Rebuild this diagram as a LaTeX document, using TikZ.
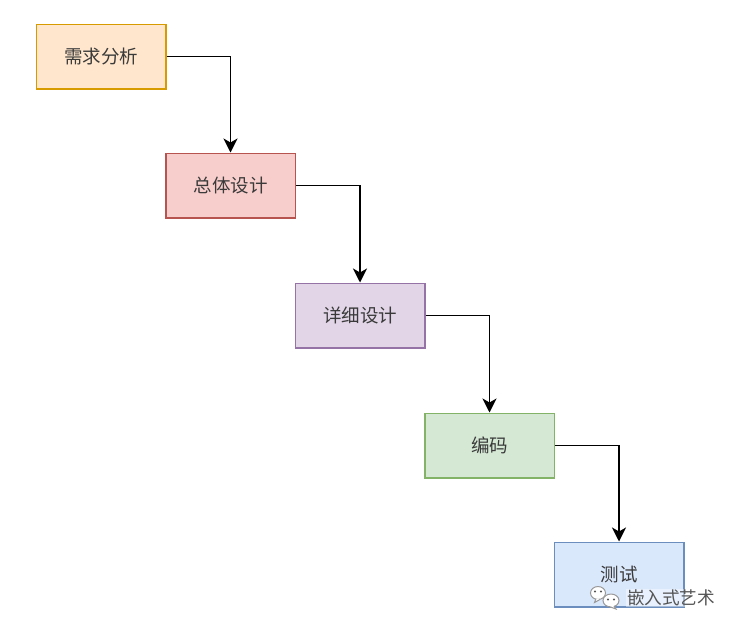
\documentclass[tikz,border=0pt]{standalone}
\usepackage{fontspec}
\setmainfont{Noto Sans CJK SC}
\usetikzlibrary{arrows.meta}
\definecolor{orangefill}{HTML}{FFE6CC}\definecolor{orangeline}{HTML}{D79B00}
\definecolor{redfill}{HTML}{F8CECC}\definecolor{redline}{HTML}{B85450}
\definecolor{purplefill}{HTML}{E1D5E7}\definecolor{purpleline}{HTML}{9673A6}
\definecolor{greenfill}{HTML}{D5E8D4}\definecolor{greenline}{HTML}{82B366}
\definecolor{bluefill}{HTML}{DAE8FC}\definecolor{blueline}{HTML}{6C8EBF}
\definecolor{labelink}{HTML}{3A3A3A}
\definecolor{markink}{HTML}{555555}
\tikzset{
  stage/.style={draw, line width=1.5pt, minimum width=129.5pt, minimum height=64.5pt,
    inner sep=0pt, text=labelink, font=\fontsize{18.5pt}{21pt}\selectfont},
  flow/.style={draw=black, line width=1.7pt,
    -{Stealth[length=14pt,width=14pt,inset=4pt]}},
  marktext/.style={markink, fill=white, fill opacity=0.4, text opacity=1,
    font=\fontsize{17.6pt}{20pt}\selectfont, inner sep=1pt},
  bubble/.style={draw=markink!60, fill=white, line width=1pt},
}
\begin{document}
\begin{tikzpicture}[x=1pt,y=-1pt]
\useasboundingbox (0,0) rectangle (739,630);
\fill[white] (0,0) rectangle (739,630);

% process stages
\node[stage, fill=orangefill, draw=orangeline] (req) at (101,56.5) {需求分析};
\node[stage, fill=redfill, draw=redline] (arch) at (230.5,185.5) {总体设计};
\node[stage, fill=purplefill, draw=purpleline] (detail) at (360,315.5) {详细设计};
\node[stage, fill=greenfill, draw=greenline] (code) at (489.5,445.5) {编码};
\node[stage, fill=bluefill, draw=blueline] (test) at (619,574.5) {测试};

% waterfall connectors
\draw[flow] (req.east) -| (arch.north);
\draw[flow] (arch.east) -| (detail.north);
\draw[flow] (detail.east) -| (code.north);
\draw[flow] (code.east) -| (test.north);

% account mark in the lower right corner
\node[marktext] (mark) at (671,598) {嵌入式艺术};
\draw[bubble] (598,593) ellipse (7.5pt and 6.5pt);
\draw[bubble] (596,598.5) -- (594.5,602.5) -- (600,599.5);
\draw[bubble] (611,600.5) ellipse (8pt and 6.5pt);
\draw[bubble] (614,606) -- (616,609) -- (609,606.5);
\fill[markink] (595,591.5) circle (1.1pt) (601,591.5) circle (1.1pt)
  (608,599.5) circle (1.1pt) (614,599.5) circle (1.1pt);
\end{tikzpicture}
\end{document}
